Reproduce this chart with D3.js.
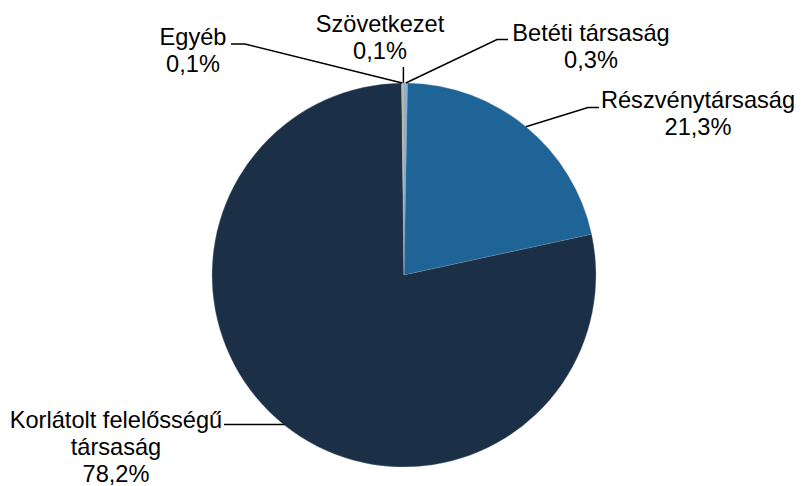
<!DOCTYPE html>
<html>
<head>
<meta charset="utf-8">
<script src="https://cdn.jsdelivr.net/npm/d3@7"></script>
<style>
  html, body { margin: 0; padding: 0; background: #fff; }
  svg { display: block; }
  text { font-family: "Liberation Sans", Arial, sans-serif; font-size: 23.6px; fill: #000; }
</style>
</head>
<body>
<svg id="chart" width="801" height="486"></svg>
<script>
// Distribution of companies by legal form (%)
const categories = ["Betéti társaság", "Részvénytársaság", "Korlátolt felelősségű társaság", "Egyéb", "Szövetkezet"];
const values = [0.3, 21.3, 78.2, 0.1, 0.1];
const labelNames = [["Betéti társaság"], ["Részvénytársaság"], ["Korlátolt felelősségű", "társaság"], ["Egyéb"], ["Szövetkezet"]];
const colors = ["#8fb2d3", "#1f6497", "#1b3046", "#e3c27f", "#b9c3cc"];

const fmt = v => d3.format(".1f")(v).replace(".", ",") + "%";

const svg = d3.select("#chart");
const cx = 404, cy = 275, r = 192;

const pie = d3.pie().sort(null).value(d => d.value);
const arcs = pie(categories.map((c, i) => ({ name: c, value: values[i], lines: labelNames[i], color: colors[i] })));
const arc = d3.arc().innerRadius(0).outerRadius(r);

const g = svg.append("g").attr("transform", `translate(${cx},${cy})`);
g.selectAll("path.slice")
  .data(arcs)
  .join("path")
  .attr("class", "slice")
  .attr("d", arc)
  .attr("fill", d => d.data.color)
  .attr("stroke", "#8da2b6")
  .attr("stroke-opacity", 0.6)
  .attr("stroke-width", 0.5);

// label placement: centre x, first baseline, and the leader's elbow points (page coords)
const layout = [
  { x: 591, y: 41,  elbow: [[508, 39.5], [497, 39.5]] },
  { x: 698, y: 108, elbow: [[599, 107.5], [588, 107.5]] },
  { x: 116, y: 428, elbow: [[224, 424.5]] },
  { x: 193, y: 45,  elbow: [[231, 44], [245, 44]] },
  { x: 380, y: 32,  elbow: null }
];
const lineH = 26.8;

// point on the rim at each slice's mid-angle
function rimPoint(d) {
  const a = (d.startAngle + d.endAngle) / 2;
  return [cx + r * Math.sin(a), cy - r * Math.cos(a)];
}

const leader = d3.line();
arcs.forEach((d, i) => {
  const L = layout[i];
  const rim = rimPoint(d);
  let pts;
  if (L.elbow) {
    pts = L.elbow.concat([rim]);
    if (i === 2) pts = [L.elbow[0], [rim[0], L.elbow[0][1]]];
  } else {
    pts = [[rim[0], 67], rim];
  }
  svg.append("path")
    .attr("d", leader(pts))
    .attr("fill", "none")
    .attr("stroke", "#000")
    .attr("stroke-width", 1.5);

  const lines = d.data.lines.concat([fmt(d.data.value)]);
  const t = svg.append("text").attr("text-anchor", "middle");
  lines.forEach((s, k) => {
    t.append("tspan").attr("x", L.x).attr("y", L.y + k * lineH).text(s);
  });
});
</script>
</body>
</html>
